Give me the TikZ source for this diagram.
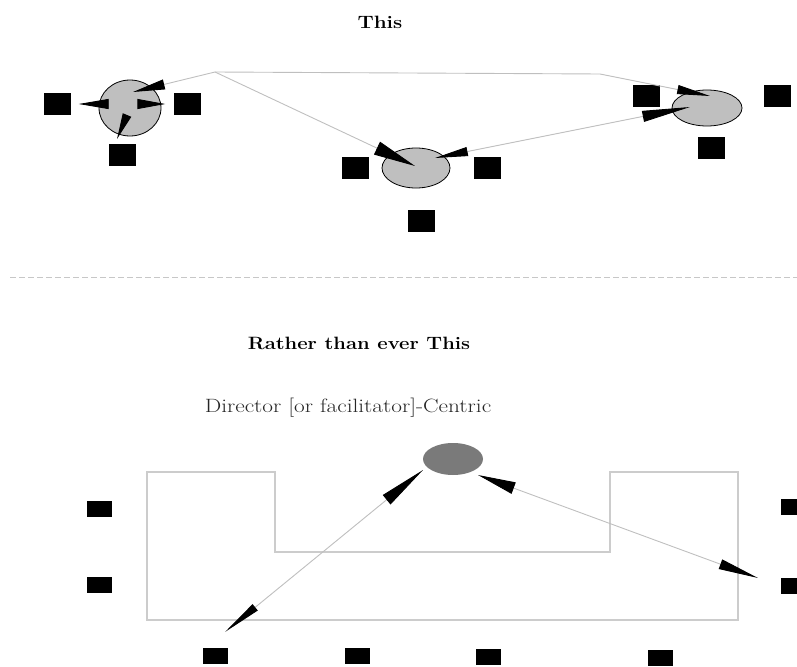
\documentclass[tikz,border=0pt]{standalone}
\usetikzlibrary{arrows.meta,shapes.geometric}

\tikzset{
  person/.style={fill=black, draw=none, inner sep=0pt, minimum width=27pt, minimum height=22pt},
  seat/.style={fill=black, draw=none, inner sep=0pt, minimum width=25pt, minimum height=16pt},
  member/.style={ellipse, draw=black, fill=black!25, line width=0.8pt, inner sep=0pt},
  leader/.style={ellipse, draw=none, fill=black!52, inner sep=0pt, minimum width=60pt, minimum height=32pt},
  link/.style={draw=black!25, line width=0.9pt},
  head/.style 2 args={-{Triangle[black,length=#1,width=#2]}},
  heads/.style n args={4}{{Triangle[black,length=#1,width=#2]}-{Triangle[black,length=#3,width=#4]}},
  title/.style={font=\fontsize{17}{20}\selectfont\bfseries, text=black, inner sep=0pt},
  caption/.style={font=\fontsize{17.5}{20}\selectfont, text=black!85, inner sep=0pt},
}

\begin{document}
\begin{tikzpicture}[x=1pt,y=-1pt]
\useasboundingbox (0,0) rectangle (797,666);

% ---------- group-centric layout ----------
\node[title] (topTitle) at (380,22) {\scalebox{1.22}[1.05]{This}};

\node[member, minimum width=62pt, minimum height=56pt] (c1) at (130,108) {};
\node[member, minimum width=68pt, minimum height=40pt] (c2) at (416,168) {};
\node[member, minimum width=70pt, minimum height=36pt] (c3) at (707,108) {};

\node[person] (s1l) at (57,104) {};
\node[person] (s1r) at (187,104) {};
\node[person] (s1b) at (122,155) {};
\node[person] (s2l) at (355,168) {};
\node[person] (s2r) at (487,168) {};
\node[person] (s2b) at (421,221) {};
\node[person] (s3l) at (646,96) {};
\node[person] (s3r) at (777,96) {};
\node[person] (s3b) at (711,148) {};

\coordinate (apex) at (215,72);
\coordinate (bend) at (600,74);
\coordinate (t1top) at (133,92);
\coordinate (t1bot) at (117,139);
\coordinate (t2l) at (415,166);
\coordinate (t2r) at (435,158);
\coordinate (t3low) at (690,107);
\coordinate (t3top) at (710,96);

\draw[link, heads={30pt}{10pt}{28pt}{10pt}, shorten <=8pt, shorten >=8pt] (s1l) -- (s1r);
\draw[link, head={26pt}{9pt}] (c1.center) -- (t1bot);
\draw[link, head={32pt}{10pt}] (apex) -- (t1top);
\draw[link, head={42pt}{14pt}] (apex) -- (t2l);
\draw[link, head={33pt}{9pt}] (apex) -- (bend) -- (t3top);
\draw[link, heads={33pt}{9pt}{48pt}{11pt}] (t2r) -- (t3low);

% ---------- separator ----------
\coordinate (sepL) at (10,277);
\coordinate (sepR) at (797,277);
\draw[black!22, line width=1pt, dash pattern=on 6pt off 3pt] (sepL) -- (sepR);

% ---------- director-centric layout ----------
\node[title] (lowTitle) at (359,343) {\scalebox{1.19}[1.05]{Rather than ever This}};
\node[caption] (lbl) at (348,408) {\scalebox{1.33}[1.1]{Director [or facilitator]-Centric}};

\draw[black!20, line width=1.4pt]
  (147,472) -- (275,472) -- (275,552) -- (610,552) -- (610,472)
  -- (738,472) -- (738,620) -- (147,620) -- cycle;

\node[leader] (dir) at (453,459) {};

\node[seat] (b1) at (99,509) {};
\node[seat] (b2) at (99,585) {};
\node[seat] (r1) at (793,507) {};
\node[seat] (r2) at (793,586) {};
\node[seat] (f1) at (215,656) {};
\node[seat] (f2) at (357,656) {};
\node[seat] (f3) at (488,657) {};
\node[seat] (f4) at (660,658) {};

\coordinate (tf1) at (225,632);
\coordinate (tdl) at (423,470);
\coordinate (tdr) at (478,475);
\coordinate (tr2) at (758,578);

\draw[link, heads={39pt}{8pt}{47pt}{12pt}] (tf1) -- (tdl);
\draw[link, heads={38pt}{12pt}{40pt}{10pt}] (tdr) -- (tr2);
\end{tikzpicture}
\end{document}
